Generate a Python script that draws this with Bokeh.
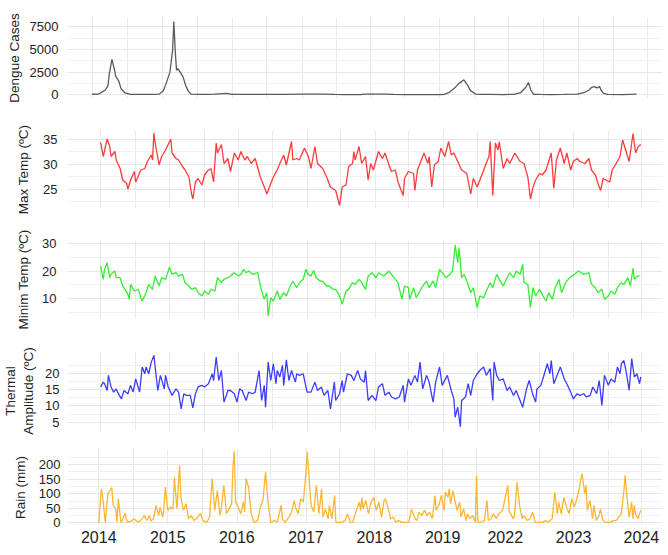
from bokeh.plotting import figure
from bokeh.layouts import column
from bokeh.models import FixedTicker, Range1d
from bokeh.embed import file_html
from bokeh.resources import INLINE

# ---------------- axis breaks (week index of the series) ----------------
x_label_weeks = [0, 53, 106, 159, 211.5, 264, 312, 364.5, 416.5]
x_labels = ["2014", "2015", "2016", "2017", "2018", "2019", "2022", "2023", "2024"]
x_grid_weeks = [0, 26.7, 53, 79.8, 106.3, 132.1, 159.3, 185, 211.5, 237.3, 263.8, 290.3,
                338, 364.5, 391, 416.5]
dengue_grid_weeks = [0, 26.7, 53, 79.8, 106.3, 132.1, 159.3, 185, 211.5, 237.3, 263.8, 290.3,
                     316.1, 342.6, 369.1, 395.6, 421.4]

# ---------------- Dengue cases ----------------
dengue_week = [0, 5, 7, 10, 12, 13, 15, 17, 18, 20, 22, 25, 29, 32, 40, 47, 51, 54, 56, 59,
               61, 62, 63, 64, 65, 66, 69, 71, 73, 75, 80, 88, 93, 102, 106, 113, 123, 133, 148, 159,
               175, 184, 191, 204, 206, 214, 222, 229, 237, 252, 265, 267, 271, 275, 278, 282, 285, 287, 291, 295,
               302, 312, 320, 325, 329, 331, 333, 335, 340, 348, 358, 368, 373, 377, 379, 381, 383, 385, 386, 388,
               391, 403, 413]
dengue_cases = [50, 75, 260, 520, 1000, 2300, 3900, 2700, 2000, 1570, 640, 190, 40, 40, 30, 40, 75, 450, 1200, 2500,
                4900, 8100, 4900, 2700, 2900, 2700, 1950, 1000, 370, 75, 30, 30, 60, 150, 40, 30, 30, 30, 40, 60,
                60, 30, 20, 20, 75, 60, 75, 40, 20, 20, 20, 40, 260, 750, 1200, 1650, 1000, 450, 75, 30,
                40, 20, 40, 220, 820, 1350, 450, 40, 30, 20, 30, 75, 220, 520, 820, 900, 750, 900, 520, 150,
                30, 20, 75]

# ---------------- Max temperature ----------------
maxt_week = [0, 2, 5, 7, 8, 11, 12, 15, 17, 20, 21, 23, 26, 27, 31, 34, 36, 39, 40, 41,
             42, 45, 47, 50, 54, 55, 58, 60, 63, 65, 68, 70, 71, 73, 75, 78, 80, 83, 85, 87,
             89, 90, 93, 95, 98, 100, 103, 106, 108, 111, 113, 116, 119, 123, 126, 128, 131, 133, 136, 138,
             141, 143, 147, 148, 151, 153, 157, 160, 162, 165, 167, 171, 174, 177, 181, 184, 186, 189,
             191, 194, 195, 196, 199, 201, 204, 206, 208, 210, 214, 217, 219, 222, 224, 227, 229, 233, 234, 237,
             241, 242, 244, 247, 249, 252, 253, 255, 257, 260, 262, 265, 268, 270, 272, 275, 278, 282, 285, 287,
             290, 294, 296, 299, 300, 302, 304, 306, 307, 310, 313, 315, 319, 323, 326, 329, 331, 333, 335, 338,
             340, 343, 347, 349, 351, 354, 357, 359, 362, 364, 367, 369, 373, 376, 378, 381, 383, 385, 387, 389,
             392, 394, 397, 400, 402, 405, 407, 410, 412, 414, 416]
maxt_val = [34.3, 31.5, 35.0, 33.5, 31.5, 32.5, 30.8, 29.1, 26.8, 26.1, 25.0, 26.8, 28.5, 26.4, 28.8, 29.1, 30.5, 31.8, 30.8, 36.2,
            34.2, 29.8, 31.5, 32.8, 35.0, 32.2, 31.1, 30.8, 29.5, 28.8, 27.4, 24.0, 23.0, 26.4, 27.1, 25.8, 27.8, 28.8, 29.1, 26.4,
            34.2, 32.2, 33.9, 30.1, 31.1, 28.5, 32.2, 30.8, 32.5, 30.8, 31.5, 30.1, 31.1, 27.4, 25.4, 24.0, 26.1, 27.4, 28.8, 30.1,
            31.8, 29.8, 34.5, 30.8, 31.1, 30.8, 33.2, 31.5, 29.1, 33.5, 30.1, 29.1, 27.4, 25.4, 24.7, 21.7, 25.4, 25.8,
            29.5, 30.1, 32.5, 30.8, 33.5, 30.1, 31.5, 26.8, 30.1, 28.8, 32.5, 31.1, 32.2, 29.8, 28.5, 28.8, 26.4, 23.7, 27.1, 28.5,
            28.1, 24.7, 28.8, 30.8, 32.2, 30.1, 31.5, 25.4, 29.8, 30.5, 33.2, 31.5, 34.5, 31.8, 32.2, 30.5, 28.8, 28.1, 24.0, 27.1,
            25.4, 28.1, 29.5, 31.5, 34.5, 23.7, 34.2, 32.8, 34.5, 29.1, 31.1, 30.1, 32.2, 30.5, 30.1, 27.4, 23.0, 25.4, 26.8, 28.1,
            27.8, 28.8, 32.2, 25.1, 30.8, 33.2, 30.1, 32.2, 28.8, 30.5, 31.1, 30.5, 30.1, 31.1, 28.8, 27.8, 26.1, 24.7, 27.1, 26.8,
            26.4, 28.8, 30.1, 31.5, 34.8, 32.2, 30.5, 36.1, 32.2, 33.5, 33.9]

# ---------------- Min temperature ----------------
mint_week = [0, 2, 3, 5, 7, 8, 11, 12, 15, 17, 18, 21, 22, 23, 26, 29, 31, 32, 35, 37,
             40, 42, 45, 47, 50, 53, 55, 58, 60, 63, 65, 68, 70, 73, 75, 78, 80, 83, 85, 88,
             90, 93, 95, 98, 100, 103, 106, 108, 110, 112, 114, 117, 121, 123, 124, 126, 128, 129, 131, 133,
             136, 138, 141, 143, 146, 148, 151, 153, 156, 158, 160, 162, 164, 166, 169, 171, 174, 176, 179,
             181, 184, 186, 189, 191, 194, 196, 199, 201, 204, 206, 209, 212, 214, 218, 222, 224, 227, 229, 232,
             234, 237, 238, 241, 243, 246, 248, 251, 253, 256, 258, 261, 263, 266, 269, 271, 273, 275, 276, 278,
             280, 282, 285, 287, 290, 292, 295, 297, 300, 302, 305, 307, 310, 313, 315, 318, 320, 323, 325, 326,
             329, 331, 333, 335, 338, 340, 343, 345, 348, 350, 353, 355, 358, 360, 363, 365, 368, 372, 376, 378,
             381, 383, 386, 388, 391, 393, 396, 398, 401, 403, 406, 408, 410, 411, 413, 415]
mint_val = [21.8, 17.0, 20.6, 23.0, 17.6, 18.8, 20.0, 17.6, 17.6, 14.6, 14.0, 11.6, 9.8, 15.2, 12.8, 13.4, 10.4, 9.2, 12.2, 15.2,
            13.4, 18.2, 14.6, 17.6, 17.0, 21.4, 18.8, 19.4, 18.2, 18.8, 15.8, 14.6, 13.4, 14.0, 12.2, 11.0, 12.8, 11.6, 13.4, 12.8,
            17.6, 15.8, 17.0, 17.6, 18.2, 19.4, 18.2, 18.8, 20.6, 19.4, 20.0, 18.8, 19.4, 14.6, 12.8, 9.8, 12.2, 3.8, 10.4, 9.2,
            12.8, 9.8, 12.2, 11.0, 14.6, 16.4, 14.0, 15.8, 17.0, 20.6, 18.8, 18.2, 20.2, 17.6, 16.4, 16.4, 14.6, 14.6, 13.4,
            13.4, 11.0, 8.0, 12.8, 13.4, 15.8, 15.2, 17.0, 15.8, 13.4, 18.2, 19.4, 17.6, 19.4, 18.2, 20.0, 18.8, 17.0, 15.8, 9.8,
            14.6, 14.0, 9.8, 14.0, 10.4, 12.8, 14.6, 16.4, 14.0, 16.4, 14.0, 20.6, 19.4, 17.6, 18.8, 20.0, 29.4, 23.0, 28.4, 17.6,
            18.8, 16.4, 12.2, 14.0, 6.8, 11.0, 10.4, 12.8, 15.8, 14.0, 18.8, 17.0, 14.6, 17.6, 19.4, 17.6, 20.0, 18.8, 22.4, 15.8,
            15.2, 6.8, 14.0, 11.0, 13.4, 11.6, 9.2, 12.2, 9.8, 14.0, 17.0, 12.2, 15.8, 17.0, 18.2, 18.8, 20.0, 18.8, 19.4, 15.2,
            14.0, 12.2, 13.4, 9.8, 11.0, 12.8, 11.6, 14.0, 15.8, 15.2, 17.6, 14.6, 21.0, 17.0, 18.2, 18.2]

# ---------------- Thermal amplitude ----------------
amp_week = [0, 2, 3, 5, 6, 8, 10, 12, 13, 16, 18, 21, 23, 25, 27, 30, 32, 34, 35, 37,
            39, 41, 42, 44, 46, 49, 50, 52, 55, 58, 60, 62, 64, 66, 69, 71, 73, 75, 78, 80,
            83, 86, 87, 89, 91, 93, 95, 98, 100, 103, 105, 107, 109, 112, 114, 117, 119, 122, 124, 126,
            127, 129, 131, 133, 135, 136, 138, 140, 141, 143, 145, 147, 150, 151, 153, 156, 159, 162, 165, 167,
            170, 172, 175, 177, 180,
            181, 184, 186, 187, 190, 193, 195, 198, 200, 203, 204, 206, 209, 212, 214, 217, 219, 222, 224, 227,
            230, 233, 234, 237, 239, 242, 244, 246, 248, 251, 253, 256, 258, 261, 263, 267, 270, 272, 273, 275,
            277, 278, 281, 283, 285, 287, 290, 292, 295, 297, 300, 302, 303, 305, 307, 310, 313, 315, 318, 320,
            323, 325, 328, 330, 333, 335, 336, 339, 341, 344, 346, 347, 349, 351, 354, 357, 359, 362, 364, 367,
            369, 372, 374, 377, 379, 382, 384, 386, 388, 391, 393, 396, 398, 400, 401, 403, 405, 407, 409, 411,
            413, 415, 416]
amp_val = [15.9, 17.4, 16.9, 14.8, 19.5, 15.9, 14.3, 15.3, 14.3, 12.2, 14.8, 13.8, 16.4, 14.3, 18.4, 14.3, 22.1, 20.0, 22.1, 20.0,
           23.6, 25.7, 22.1, 14.8, 19.5, 15.3, 19.5, 15.9, 13.3, 15.3, 14.3, 9.1, 13.8, 13.3, 13.3, 9.4, 13.8, 15.9, 16.4, 15.9,
           16.9, 20.0, 17.9, 25.2, 17.9, 21.0, 11.2, 14.8, 14.8, 13.8, 11.2, 15.3, 14.8, 11.7, 14.3, 13.8, 14.3, 21.0, 11.7, 16.4,
           9.6, 23.6, 17.9, 23.1, 16.9, 21.0, 19.0, 22.6, 16.4, 24.3, 17.9, 21.0, 17.4, 20.0, 19.5, 20.0, 14.3, 14.3, 17.4, 14.8,
           15.9, 13.3, 14.8, 9.1, 17.4,
           11.7, 13.8, 17.9, 14.3, 20.0, 19.5, 17.9, 21.0, 18.4, 17.4, 21.0, 11.7, 13.3, 11.7, 15.9, 16.9, 13.3, 14.3, 12.8, 12.2,
           12.8, 16.4, 11.2, 18.4, 16.4, 19.5, 17.4, 23.6, 15.3, 19.5, 17.4, 11.2, 17.4, 22.1, 16.4, 19.5, 14.8, 12.2, 6.5, 9.6,
           3.6, 11.7, 12.8, 16.9, 13.3, 17.9, 20.0, 21.0, 22.1, 19.5, 21.6, 11.7, 23.6, 19.5, 17.9, 18.4, 14.8, 15.9, 13.3, 14.8,
           11.7, 9.6, 15.3, 17.9, 13.3, 11.2, 15.3, 16.4, 19.0, 23.1, 20.0, 24.1, 16.9, 19.0, 22.1, 18.4, 16.9, 14.3, 12.2, 13.8,
           13.3, 13.8, 12.8, 13.3, 15.9, 13.8, 17.9, 10.2, 19.5, 16.4, 18.4, 17.4, 22.1, 20.0, 23.1, 24.1, 20.0, 14.8, 24.7, 19.0,
           20.0, 16.9, 19.0]

# ---------------- Rain ----------------
rain_week = [0, 2, 3, 5, 7, 8, 10, 11, 13, 14, 15, 17, 18, 20, 22, 25, 27, 30, 32, 35,
             37, 39, 40, 42, 44, 46, 47, 49, 50, 51, 53, 55, 57, 58, 60, 62, 63, 65, 67, 69,
             71, 73, 75, 78, 80, 83, 85, 87, 89, 91, 93, 94, 96, 98, 100, 102, 103, 104, 105, 107,
             109, 111, 112, 113, 115, 117, 119, 122, 124, 126, 128, 130, 132, 135, 137, 140, 141, 143, 146, 148,
             150, 151, 153, 155, 157, 159, 160, 162, 163, 165, 167, 169, 171, 172, 174, 176, 177, 179, 181, 182,
             184, 186, 189, 191, 193, 195, 198, 200, 201, 202, 203, 205, 207, 209, 211, 213, 215, 217, 219, 220,
             222, 224, 226, 228, 230, 233, 235, 238, 240, 242, 244, 246, 248, 250, 252, 254, 256, 258, 259, 261,
             263, 265, 266, 268, 269, 270, 272, 273, 275, 277, 278, 280, 282, 283, 285, 287, 289, 290, 291, 293,
             296, 298, 299, 301, 303, 305, 307, 310, 312, 314, 315, 318, 319, 320, 321, 323, 325, 326, 329, 331,
             333, 335, 338, 340, 343, 345, 348, 350, 352, 353, 355, 357, 359, 361, 363, 365, 367, 369, 370, 371,
             373, 374, 375, 377, 379, 380, 382, 384, 385, 387, 389, 392, 395, 397, 400, 401, 403, 404, 405, 407,
             409, 410, 411, 412, 414, 416]
rain_mm = [0, 117, 88, 2, 100, 106, 121, 60, 48, 2, 83, 2, 8, 33, 2, 6, 14, 2, 8, 25,
           8, 25, 6, 14, 60, 25, 54, 20, 48, 123, 43, 54, 48, 157, 48, 198, 88, 43, 66, 14,
           25, 8, 14, 33, 8, 2, 20, 152, 43, 111, 25, 48, 129, 31, 48, 66, 192, 246, 71, 54,
           31, 71, 37, 152, 123, 31, 2, 8, 54, 77, 175, 66, 2, 8, 2, 60, 14, 2, 20, 37,
           77, 54, 31, 83, 71, 175, 244, 117, 60, 37, 129, 31, 117, 20, 48, 14, 60, 14, 94, 2,
           2, 2, 8, 31, 2, 2, 48, 71, 43, 88, 48, 77, 31, 71, 88, 43, 71, 20, 77, 83,
           54, 14, 20, 2, 8, 2, 2, 2, 48, 22, 8, 37, 25, 43, 25, 37, 14, 94, 43, 60,
           94, 43, 106, 88, 117, 66, 111, 83, 43, 71, 20, 48, 8, 31, 14, 25, 2, 163, 2, 2,
           8, 77, 8, 14, 31, 14, 31, 43, 88, 129, 43, 14, 25, 77, 140, 60, 14, 25, 8, 14,
           37, 2, 2, 2, 8, 2, 14, 106, 31, 71, 31, 88, 54, 31, 83, 54, 83, 123, 152, 169,
           100, 129, 43, 77, 14, 60, 8, 25, 48, 8, 2, 2, 8, 8, 25, 31, 106, 163, 111, 20,
           71, 14, 60, 31, 14, 43]

FONT = "Liberation Sans"
TXT = "#222222"


def panel(weeks, vals, color, ylabel, yr, yticks, yminor, height, top, bottom, left,
          grid_weeks, label_standoff, title_standoff, show_x=False, title_size="13.5px"):
    x_start = (left - 90.7) * 0.7574
    p = figure(width=668, height=height, title=None,
               x_range=Range1d(x_start, 432.7), y_range=Range1d(*yr),
               output_backend="svg", toolbar_location=None,
               min_border_left=left, min_border_right=6,
               min_border_top=top, min_border_bottom=bottom)
    p.outline_line_color = None
    p.background_fill_color = "white"
    p.border_fill_color = "white"

    p.yaxis.ticker = FixedTicker(ticks=yticks, minor_ticks=yminor)
    p.yaxis.axis_line_color = None
    p.yaxis.major_tick_line_color = None
    p.yaxis.minor_tick_line_color = None
    p.yaxis.major_tick_out = 0
    p.yaxis.major_label_standoff = label_standoff
    p.yaxis.major_label_text_font = FONT
    p.yaxis.major_label_text_font_size = "13px"
    p.yaxis.major_label_text_color = TXT
    p.yaxis.axis_label = ylabel
    p.yaxis.axis_label_text_font = FONT
    p.yaxis.axis_label_text_font_style = "normal"
    p.yaxis.axis_label_text_font_size = title_size
    p.yaxis.axis_label_text_color = TXT
    p.yaxis.axis_label_standoff = title_standoff

    p.ygrid.grid_line_color = "#e6e6e6"
    p.ygrid.minor_grid_line_color = "#f1f1f1"
    p.xgrid.ticker = FixedTicker(ticks=grid_weeks)
    p.xgrid.grid_line_color = "#e9e9e9"

    if show_x:
        p.xaxis.ticker = FixedTicker(ticks=x_label_weeks)
        p.xaxis.major_label_overrides = {w: l for w, l in zip(x_label_weeks, x_labels)}
        p.xaxis.axis_line_color = None
        p.xaxis.major_tick_line_color = None
        p.xaxis.minor_tick_line_color = None
        p.xaxis.major_tick_out = 0
        p.xaxis.major_label_standoff = 5
        p.xaxis.major_label_text_font = FONT
        p.xaxis.major_label_text_font_size = "16px"
        p.xaxis.major_label_text_color = TXT
    else:
        p.xaxis.visible = False

    n = min(len(weeks), len(vals))
    p.line(weeks[:n], vals[:n], line_color=color, line_width=1.3)
    return p


p1 = panel(dengue_week, dengue_cases, "#5a5a5a", "Dengue Cases", (-420, 8550),
           [0, 2500, 5000, 7500], [1250, 3750, 6250], 114, 17, 16, 66,
           dengue_grid_weeks, 5, 5)
p2 = panel(maxt_week, maxt_val, "#ff3a3a", "Max Temp (ºC)", (21.1, 36.7),
           [25, 30, 35], [22.5, 27.5, 32.5], 110, 16, 16, 57,
           x_grid_weeks, 6, 9)
p3 = panel(mint_week, mint_val, "#33ee33", "Minim Temp (ºC)", (2.9, 31.0),
           [10, 20, 30], [5, 15, 25], 111, 16, 17, 57,
           x_grid_weeks, 7, 8)
p4 = panel(amp_week, amp_val, "#3c3cff", "Thermal\nAmplitude (ºC)", (2.4, 26.9),
           [5, 10, 15, 20], [7.5, 12.5, 17.5, 22.5], 105, 16, 10, 57,
           x_grid_weeks, 4, 6)
p5 = panel(rain_week, rain_mm, "#ffb534", "Rain (mm)", (-9, 252),
           [0, 50, 100, 150, 200], [25, 75, 125, 175, 225], 115, 9, 30, 59,
           x_grid_weeks, 3, 8, show_x=True)

layout = column(p1, p2, p3, p4, p5, spacing=0)
open("out.html", "w").write(file_html(layout, INLINE))
